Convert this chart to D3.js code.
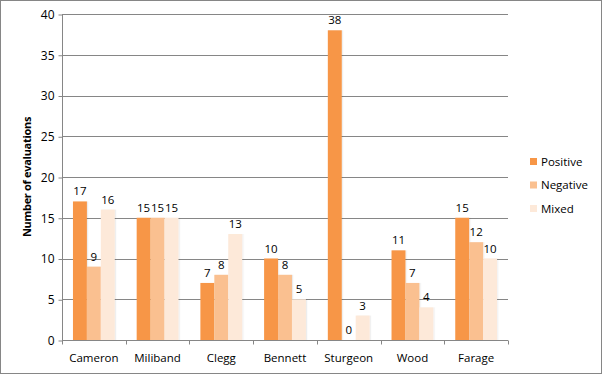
<!DOCTYPE html>
<html>
<head>
<meta charset="utf-8">
<script src="https://cdn.jsdelivr.net/npm/d3@7"></script>
<style>
  body { margin: 0; background: #fff; }
  text { font-family: "Open Sans", "Liberation Sans", sans-serif; fill: #000; }
</style>
</head>
<body>
<div id="chart"></div>
<script>
const leaders = ["Cameron", "Miliband", "Clegg", "Bennett", "Sturgeon", "Wood", "Farage"]
const seriesNames = ["Positive", "Negative", "Mixed"]
const positive = [17, 15, 7, 10, 38, 11, 15]
const negative = [9, 15, 8, 8, 0, 7, 12]
const mixed = [16, 15, 13, 5, 3, 4, 10]
const yTicks = [0, 5, 10, 15, 20, 25, 30, 35, 40]
const colors = ["#f79646", "#fac090", "#fde9d9"]

const width = 603, height = 375
const margin = {top: 14, right: 95, bottom: 35, left: 62}

const svg = d3.select("#chart").append("svg")
    .attr("width", width)
    .attr("height", height)

// outer border
svg.append("rect")
    .attr("x", 0.5).attr("y", 0.5)
    .attr("width", width - 2).attr("height", height - 2)
    .attr("fill", "#fff")
    .attr("stroke", "#868686")

const defs = svg.append("defs")
const shadow = defs.append("filter").attr("id", "shadow")
    .attr("x", "-20%").attr("y", "-5%").attr("width", "160%").attr("height", "110%")
shadow.append("feDropShadow")
    .attr("dx", 1.2).attr("dy", 0).attr("stdDeviation", 0.7)
    .attr("flood-color", "#000").attr("flood-opacity", 0.08)

const x = d3.scaleBand()
    .domain(leaders)
    .range([margin.left, width - margin.right])
    .paddingInner(0.344)
    .paddingOuter(0.172)

const xSub = d3.scaleBand()
    .domain(seriesNames)
    .range([0, x.bandwidth()])

const y = d3.scaleLinear()
    .domain([0, 40])
    .range([height - margin.bottom, margin.top])

// gridlines
svg.append("g")
    .selectAll("line")
    .data(yTicks.slice(1))
    .enter().append("line")
    .attr("x1", margin.left)
    .attr("x2", width - margin.right)
    .attr("y1", d => Math.round(y(d)) + 0.5)
    .attr("y2", d => Math.round(y(d)) + 0.5)
    .attr("stroke", "#868686")

// y axis
const yAxis = svg.append("g")
    .attr("transform", `translate(${margin.left + 0.5},0.5)`)
    .call(d3.axisLeft(y).tickValues(yTicks).tickSize(4).tickPadding(4))
yAxis.select(".domain").attr("stroke", "#868686").attr("d", `M0,${y(40)}V${y(0)}`)
yAxis.selectAll(".tick line").attr("stroke", "#868686")
yAxis.selectAll(".tick text").attr("font-size", 12)

// x axis
const xStep = x.step()
const xAxis = svg.append("g")
    .attr("transform", `translate(0,${Math.round(y(0)) + 0.5})`)
xAxis.append("line")
    .attr("x1", margin.left).attr("x2", width - margin.right)
    .attr("stroke", "#868686")
xAxis.selectAll("line.tick")
    .data(d3.range(leaders.length + 1))
    .enter().append("line")
    .attr("class", "tick")
    .attr("x1", i => Math.round(margin.left + i * xStep) + 0.5)
    .attr("x2", i => Math.round(margin.left + i * xStep) + 0.5)
    .attr("y1", 0).attr("y2", 4)
    .attr("stroke", "#868686")
xAxis.selectAll("text")
    .data(leaders)
    .enter().append("text")
    .attr("x", d => x(d) + x.bandwidth() / 2)
    .attr("y", 21)
    .attr("text-anchor", "middle")
    .attr("font-size", 11.5)
    .text(d => d)

// y title
svg.append("text")
    .attr("transform", `translate(31,${(y(0) + y(40)) / 2}) rotate(-90)`)
    .attr("text-anchor", "middle")
    .attr("font-size", 11)
    .attr("font-weight", "bold")
    .attr("letter-spacing", -0.3)
    .text("Number of evaluations")

// bars
const rows = leaders.map((name, i) => ({
    name: name,
    values: [positive[i], negative[i], mixed[i]]
}))

const groups = svg.append("g")
    .selectAll("g")
    .data(rows)
    .enter().append("g")
    .attr("transform", d => `translate(${x(d.name)},0)`)

groups.selectAll("rect")
    .data(d => d.values.map((v, j) => ({series: seriesNames[j], value: v, j: j})))
    .enter().append("rect")
    .attr("x", d => xSub(d.series))
    .attr("y", d => y(d.value))
    .attr("width", xSub.bandwidth())
    .attr("height", d => y(0) - y(d.value))
    .attr("fill", d => colors[d.j])
    .attr("filter", "url(#shadow)")

groups.selectAll("text")
    .data(d => d.values.map((v, j) => ({series: seriesNames[j], value: v})))
    .enter().append("text")
    .attr("x", d => xSub(d.series) + xSub.bandwidth() / 2)
    .attr("y", d => y(d.value) - 6)
    .attr("text-anchor", "middle")
    .attr("font-size", 11.5)
    .text(d => d.value)

// legend
const legend = svg.append("g")
    .attr("transform", "translate(530,158)")
const items = legend.selectAll("g")
    .data(seriesNames)
    .enter().append("g")
    .attr("transform", (d, i) => `translate(0,${i * 23.5})`)
items.append("rect")
    .attr("width", 7).attr("height", 7)
    .attr("fill", (d, i) => colors[i])
items.append("text")
    .attr("x", 11)
    .attr("y", 7.5)
    .attr("font-size", 11.5)
    .text(d => d)
</script>
</body>
</html>
